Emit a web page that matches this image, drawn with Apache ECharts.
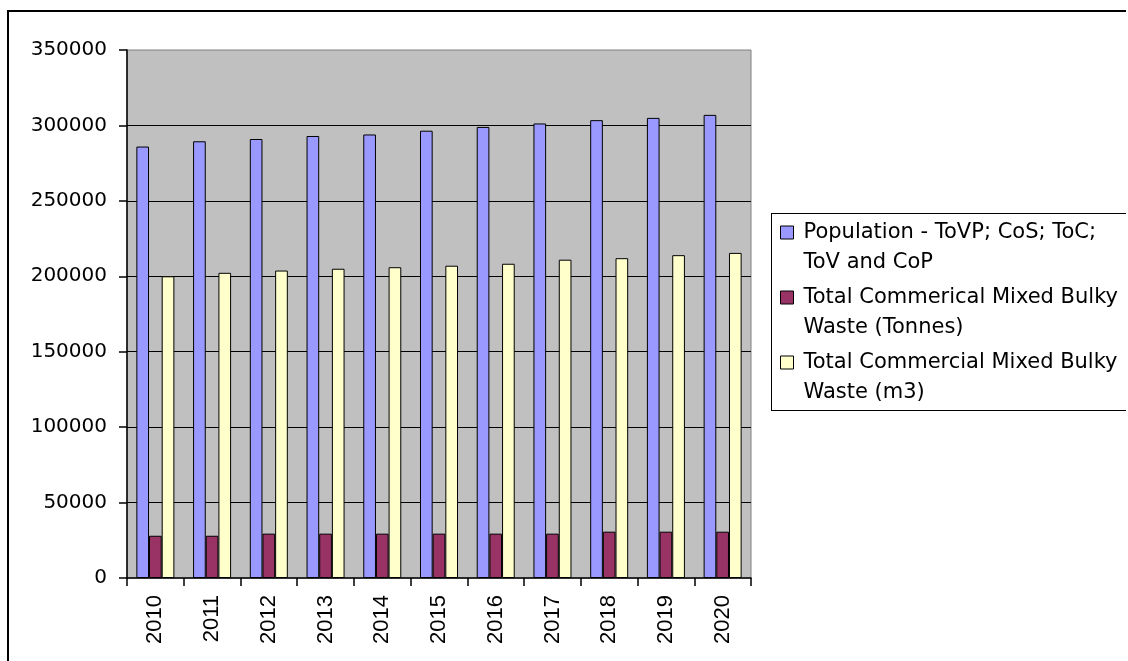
<!DOCTYPE html>
<html>
<head>
<meta charset="utf-8">
<script src="https://cdn.jsdelivr.net/npm/echarts@6/dist/echarts.min.js"></script>
<style>
html,body{margin:0;padding:0;background:#fff;overflow:hidden;}
#chart{width:1128px;height:661px;}
</style>
</head>
<body>
<div id="chart"></div>
<script>
const years = ['2010','2011','2012','2013','2014','2015','2016','2017','2018','2019','2020'];
const seriesNames = [
  'Population - ToVP; CoS; ToC; ToV and CoP',
  'Total Commerical Mixed Bulky Waste (Tonnes)',
  'Total Commercial Mixed Bulky Waste (m3)'
];
const legendLabels = [
  'Population - ToVP; CoS; ToC;\nToV and CoP',
  'Total Commerical Mixed Bulky\nWaste (Tonnes)',
  'Total Commercial Mixed Bulky\nWaste (m3)'
];
const population = [286000, 289500, 291000, 293000, 294000, 296500, 299000, 301300, 303500, 305000, 307000];
const wasteTonnes = [28000, 28000, 29400, 29400, 29400, 29400, 29400, 29400, 30700, 30700, 30700];
const wasteM3 = [200000, 202300, 203800, 205000, 206000, 207000, 208300, 211000, 212000, 214000, 215500];
const colors = ['#9999FF', '#993366', '#FFFFCC'];

const chart = echarts.init(document.getElementById('chart'), null, {renderer: 'canvas'});
const dataSets = [population, wasteTonnes, wasteM3];

chart.setOption({
  animation: false,
  backgroundColor: '#ffffff',
  graphic: [
    {type: 'line', shape: {x1: 8, y1: 10, x2: 8, y2: 661}, style: {stroke: '#000', lineWidth: 2}, silent: true, z: 0},
    {type: 'line', shape: {x1: 7, y1: 11, x2: 1126, y2: 11}, style: {stroke: '#000', lineWidth: 2}, silent: true, z: 0},
    {type: 'line', shape: {x1: 771.5, y1: 213, x2: 771.5, y2: 411}, style: {stroke: '#000', lineWidth: 1}, silent: true, z: 10},
    {type: 'line', shape: {x1: 771, y1: 213.5, x2: 1126, y2: 213.5}, style: {stroke: '#000', lineWidth: 1}, silent: true, z: 10},
    {type: 'line', shape: {x1: 771, y1: 410.5, x2: 1126, y2: 410.5}, style: {stroke: '#000', lineWidth: 1}, silent: true, z: 10}
  ],
  grid: {
    left: 127, top: 50, width: 624, height: 528,
    show: true, backgroundColor: '#C0C0C0', borderColor: '#808080', borderWidth: 1
  },
  legend: {
    orient: 'vertical',
    left: 771, top: 213,
    padding: [5, 5, 3, 9],
    itemGap: 6,
    itemWidth: 18, itemHeight: 43,
    icon: 'path://M0,0L13,0L13,13L0,13Z M18,43',
    borderWidth: 0,
    itemStyle: {borderColor: '#000', borderWidth: 1},
    textStyle: {fontFamily: 'DejaVu Sans', fontSize: 21, lineHeight: 29.5, color: '#000'},
    formatter: function (name) { return legendLabels[seriesNames.indexOf(name)]; },
    data: seriesNames
  },
  xAxis: {
    type: 'category',
    data: years,
    axisLine: {lineStyle: {color: '#000', width: 1.5}},
    axisTick: {show: true, length: 8, lineStyle: {color: '#000', width: 1.5}},
    axisLabel: {rotate: 90, margin: 17, fontFamily: 'Liberation Sans', fontSize: 22, color: '#000'},
    splitLine: {show: false}
  },
  yAxis: {
    type: 'value',
    min: 0, max: 350000, interval: 50000,
    axisLine: {show: true, lineStyle: {color: '#000', width: 1.5}},
    axisTick: {show: true, length: 8, lineStyle: {color: '#000', width: 1.5}},
    axisLabel: {margin: 20, fontFamily: 'DejaVu Sans', fontSize: 20, color: '#000', formatter: function (v) { return String(v); }},
    splitLine: {show: true, showMinLine: false, showMaxLine: false, lineStyle: {color: '#000', width: 1}}
  },
  series: seriesNames.map(function (n, i) {
    return {
      name: n,
      type: 'bar',
      data: dataSets[i],
      barGap: '0%',
      barCategoryGap: '33%',
      itemStyle: {color: colors[i], borderColor: '#000', borderWidth: 1}
    };
  })
});
</script>
</body>
</html>
